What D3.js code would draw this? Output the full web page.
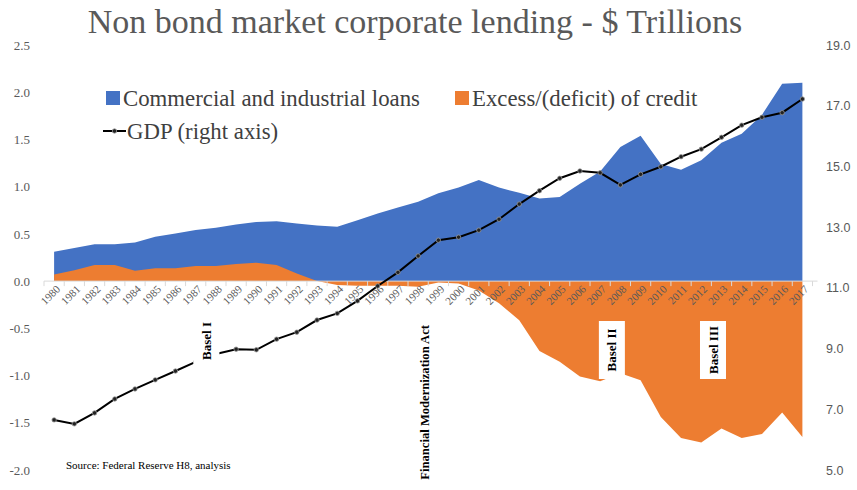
<!DOCTYPE html>
<html>
<head>
<meta charset="utf-8">
<script src="https://cdn.jsdelivr.net/npm/d3@7"></script>
<style>
  html, body { margin: 0; padding: 0; background: #fff; }
  svg { display: block; }
</style>
</head>
<body>
<svg id="chart" width="857" height="490"></svg>
<script>
// Years on the category axis
const years = d3.range(1980, 2018).map(String);

// Commercial and industrial loans, $ trillions (left axis)
const ciLoans = [0.31, 0.35, 0.39, 0.39, 0.41, 0.47, 0.505, 0.54, 0.565, 0.60,
  0.625, 0.635, 0.61, 0.59, 0.575, 0.645, 0.715, 0.78, 0.84, 0.93,
  0.99, 1.07, 0.99, 0.935, 0.875, 0.89, 1.03, 1.16, 1.42, 1.54,
  1.24, 1.18, 1.28, 1.465, 1.56, 1.76, 2.09, 2.10];

// Excess/(deficit) of credit, $ trillions (left axis)
const excessCredit = [0.07, 0.115, 0.17, 0.17, 0.11, 0.135, 0.135, 0.16, 0.16, 0.18,
  0.195, 0.17, 0.08, 0.0, -0.04, -0.05, -0.05, -0.05, -0.06, -0.015,
  -0.025, -0.10, -0.235, -0.415, -0.74, -0.855, -1.01, -1.06, -0.975, -1.05,
  -1.44, -1.66, -1.71, -1.56, -1.66, -1.62, -1.39, -1.65];

// GDP, $ trillions (right axis)
const gdp = [6.65, 6.52, 6.88, 7.34, 7.67, 7.97, 8.26, 8.56, 8.82, 8.98,
  8.96, 9.31, 9.54, 9.94, 10.16, 10.57, 11.06, 11.51, 12.05, 12.57,
  12.67, 12.90, 13.26, 13.76, 14.20, 14.61, 14.85, 14.79, 14.39, 14.74,
  14.99, 15.32, 15.57, 15.96, 16.36, 16.62, 16.77, 17.22];

// Axis tick values
const leftTicks = [-2.0, -1.5, -1.0, -0.5, 0.0, 0.5, 1.0, 1.5, 2.0, 2.5];
const rightTicks = [5.0, 7.0, 9.0, 11.0, 13.0, 15.0, 17.0, 19.0];

// Regulatory milestones written across the plot
const events = [
  { label: "Basel I", year: "1988", box: true },
  { label: "Financial Modernization Act", year: "1999", box: false },
  { label: "Basel II", year: "2008", box: true },
  { label: "Basel III", year: "2013", box: true }
];

const svg = d3.select("#chart");
const serif = "'Liberation Serif', 'Times New Roman', serif";
const sans = "'Liberation Sans', Arial, sans-serif";
const blue = "#4472C4", orange = "#ED7D31", grey = "#595959";

const x = d3.scaleBand().domain(years).range([44, 812.5]).paddingInner(0).paddingOuter(0);
const cx = d => x(d) + x.bandwidth() / 2;
const yL = d3.scaleLinear().domain([-2, 2.5]).range([470, 45]);
const yR = d3.scaleLinear().domain([5, 19]).range([470, 45]);

const rows = years.map((yr, i) => ({ yr, ci: ciLoans[i], ex: excessCredit[i], g: gdp[i] }));

// Title
svg.append("text")
  .attr("x", 415).attr("y", 33)
  .attr("text-anchor", "middle")
  .style("font-family", serif).style("font-size", "34px").style("fill", grey)
  .text("Non bond market corporate lending - $ Trillions");

// Areas
const areaCI = d3.area().x(d => cx(d.yr)).y0(yL(0)).y1(d => yL(d.ci));
const areaEx = d3.area().x(d => cx(d.yr)).y0(yL(0)).y1(d => yL(d.ex));
svg.append("path").datum(rows).attr("d", areaCI).attr("fill", blue);
svg.append("path").datum(rows).attr("d", areaEx).attr("fill", orange);

// Category axis
const axisY = yL(0);
const axisG = svg.append("g").attr("transform", `translate(0,${axisY})`);
const xAxis = d3.axisBottom(x).tickSize(0).tickFormat(() => "");
axisG.call(xAxis);
axisG.select(".domain").attr("stroke", "#d9d9d9").attr("stroke-width", 1)
  .attr("d", `M${x.range()[0]},0H${x.range()[1] + 5}`);
const bounds = years.map(d => x(d)).concat([x.range()[1]]);
axisG.selectAll("line.bound").data(bounds).enter().append("line")
  .attr("class", "bound")
  .attr("x1", d => d).attr("x2", d => d).attr("y1", 0).attr("y2", 5)
  .attr("stroke", "#d9d9d9").attr("stroke-width", 1);
axisG.selectAll("text.yr").data(years).enter().append("text")
  .attr("class", "yr")
  .attr("transform", d => `translate(${cx(d) + 4},${6}) rotate(-45)`)
  .attr("text-anchor", "end")
  .attr("dy", "0.35em")
  .style("font-family", serif).style("font-size", "11px").style("fill", grey)
  .text(d => d);

// Left axis labels
const leftG = svg.append("g").attr("transform", "translate(30,0)");
leftG.call(d3.axisLeft(yL).tickValues(leftTicks).tickSize(0).tickPadding(0).tickFormat(d3.format(".1f")));
leftG.select(".domain").remove();
leftG.selectAll("text").style("font-family", serif).style("font-size", "13px").style("fill", grey)
  .text(d => d3.format(".1f")(d).replace("−", "-"));

// Right axis labels
const rightG = svg.append("g").attr("transform", "translate(826,0)");
rightG.call(d3.axisRight(yR).tickValues(rightTicks).tickSize(0).tickPadding(0).tickFormat(d3.format(".1f")));
rightG.select(".domain").remove();
rightG.selectAll("text").style("font-family", sans).style("font-size", "12.5px").style("fill", grey);

// GDP line with markers
const line = d3.line().x(d => cx(d.yr)).y(d => yR(d.g));
svg.append("path").datum(rows).attr("d", line)
  .attr("fill", "none").attr("stroke", "#000").attr("stroke-width", 2);
svg.selectAll("circle.gdp").data(rows).enter().append("circle")
  .attr("class", "gdp")
  .attr("cx", d => cx(d.yr)).attr("cy", d => yR(d.g)).attr("r", 2.2)
  .attr("fill", "#222").attr("stroke", "#9a9a9a").attr("stroke-width", 0.8);

// Event labels, rotated to read upward
const evG = svg.append("g");
events.forEach(ev => {
  if (ev.box) {
    const ex = ev.year === "1988" ? cx(ev.year) - 9.5 : cx(ev.year) - 8.5;
    const cy = ev.year === "1988" ? 341 : 350;
    evG.append("rect")
      .attr("x", ex - 13).attr("y", cy - 29).attr("width", 26).attr("height", 58)
      .attr("fill", "#fff");
    evG.append("text")
      .attr("transform", `translate(${ex},${cy}) rotate(-90)`)
      .attr("text-anchor", "middle").attr("dy", "0.35em")
      .style("font-family", serif).style("font-size", "13px").style("font-weight", "bold")
      .style("fill", "#000")
      .text(ev.label);
  } else {
    const ex = cx(ev.year) - 14;
    evG.append("text")
      .attr("transform", `translate(${ex},325) rotate(-90)`)
      .attr("text-anchor", "end").attr("dy", "0.35em")
      .style("font-family", serif).style("font-size", "12.6px").style("font-weight", "bold")
      .style("fill", "#000")
      .text(ev.label);
  }
});

// Legend
const leg = svg.append("g").style("font-family", serif).style("font-size", "22.8px").style("fill", "#404040");
leg.append("rect").attr("x", 106).attr("y", 91).attr("width", 14).attr("height", 14).attr("fill", blue);
leg.append("text").attr("x", 123).attr("y", 106).text("Commercial and industrial loans");
leg.append("rect").attr("x", 455).attr("y", 91).attr("width", 14).attr("height", 14).attr("fill", orange);
leg.append("text").attr("x", 472).attr("y", 106).text("Excess/(deficit) of credit");
leg.append("line").attr("x1", 103).attr("x2", 126).attr("y1", 131).attr("y2", 131)
  .attr("stroke", "#000").attr("stroke-width", 2);
leg.append("circle").attr("cx", 114.5).attr("cy", 131).attr("r", 2.2)
  .attr("fill", "#222").attr("stroke", "#9a9a9a").attr("stroke-width", 0.8);
leg.append("text").attr("x", 127).attr("y", 139).text("GDP (right axis)");

// Source note
svg.append("text")
  .attr("x", 66).attr("y", 469)
  .style("font-family", serif).style("font-size", "11px").style("fill", "#000")
  .text("Source: Federal Reserve H8, analysis");
</script>
</body>
</html>
